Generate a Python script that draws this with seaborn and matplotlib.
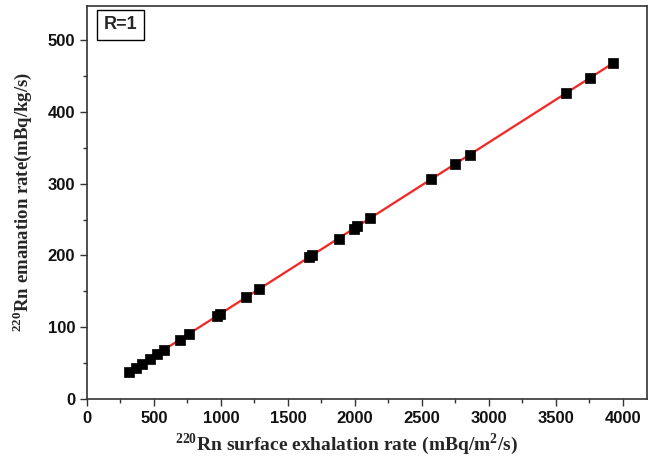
import matplotlib
matplotlib.use("Agg")
import matplotlib.pyplot as plt
import seaborn as sns
import numpy as np
import pandas as pd

exhalation = [312, 364, 409, 468, 520, 572, 691, 758, 974, 996, 1190, 1286,
              1658, 1680, 1881, 1993, 2015, 2112, 2565, 2743, 2855, 3576, 3755, 3926]
emanation = [38, 43, 48, 56, 62, 68, 82, 91, 116, 119, 142, 153,
             198, 201, 223, 237, 241, 252, 306, 327, 340, 427, 448, 468]
xticks = [0, 500, 1000, 1500, 2000, 2500, 3000, 3500, 4000]
yticks = [0, 100, 200, 300, 400, 500]

df = pd.DataFrame({"x": exhalation, "y": emanation})

sns.set_style("ticks")
plt.rcParams['font.family'] = ['Liberation Sans', 'DejaVu Sans']
plt.rcParams['mathtext.fontset'] = 'custom'
plt.rcParams['mathtext.rm'] = 'Liberation Serif:bold'
plt.rcParams['mathtext.bf'] = 'Liberation Serif:bold'

fig = plt.figure(figsize=(6.49, 4.59), dpi=100)
ax = fig.add_axes([0.134, 0.131, 0.863, 0.856])

sns.regplot(data=df, x="x", y="y", ci=None, ax=ax, marker="s",
            scatter_kws=dict(s=42, color="black", edgecolors="black", linewidths=0.5,
                             alpha=1, zorder=3),
            line_kws=dict(color="#ff2020", lw=1.6, zorder=2))

ax.set_xlim(0, 4180)
ax.set_ylim(0, 548)
ax.set_xticks(xticks)
ax.set_yticks(yticks)
ax.set_xticks(np.arange(250, 4180, 500), minor=True)
ax.set_yticks(np.arange(50, 548, 100), minor=True)
ax.tick_params(axis='both', which='major', direction='out', length=5, width=1,
               labelsize=12, color='#333333', labelcolor='#111111')
ax.tick_params(axis='both', which='minor', direction='out', length=3, width=1, color='#333333')
for lab in ax.get_xticklabels() + ax.get_yticklabels():
    lab.set_fontweight('bold')
for s in ax.spines.values():
    s.set_visible(True)
    s.set_color('#333333')
    s.set_linewidth(1.2)

ax.set_xlabel(r'$^{220}$Rn surface exhalation rate (mBq/m$^{2}$/s)',
              fontsize=14, family='Liberation Serif', fontweight='bold', va='center')
ax.xaxis.set_label_coords(0.464, -0.115)
ax.set_ylabel(r'$^{220}$Rn emanation rate(mBq/kg/s)',
              fontsize=13.5, family='Liberation Serif', fontweight='bold', labelpad=10)

ax.text(0.03, 0.952, 'R=1', transform=ax.transAxes, fontsize=13, fontweight='bold',
        va='center', ha='left',
        bbox=dict(boxstyle='square,pad=0.35', facecolor='white', edgecolor='black', lw=1))

fig.savefig("out.png", dpi=100)
